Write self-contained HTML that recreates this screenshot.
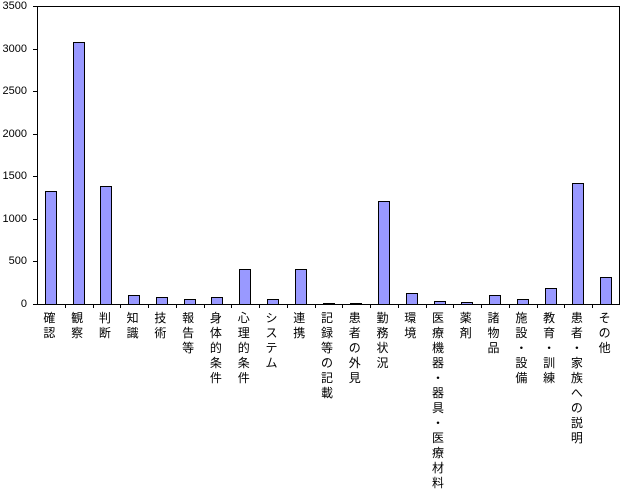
<!DOCTYPE html>
<html><head><meta charset="utf-8"><style>
body{margin:0;background:#fff;width:621px;height:493px;overflow:hidden;position:relative;font-family:"Liberation Sans","Noto Sans CJK JP",sans-serif}
.yl{position:absolute;right:594px;font-size:11px;line-height:12px;text-align:right}
.lab{position:absolute;top:310px;width:16px;font-size:12px;line-height:15px;text-align:center;font-family:"Noto Sans CJK JP","IPAGothic",sans-serif}
</style></head><body>
<svg width="621" height="493" style="position:absolute;left:0;top:0" id="s"></svg>
<div id="ys"></div><div id="ls"></div>
<script>
var vals=[1330,3080,1390,100,80,60,80,410,60,410,10,10,1210,130,40,20,110,60,190,1420,320];
var labs=["確認","観察","判断","知識","技術","報告等","身体的条件","心理的条件","システム","連携","記録等の記載","患者の外見","勤務状況","環境","医療機器・器具・医療材料","薬剤","諸物品","施設・設備","教育・訓練","患者・家族への説明","その他"];
var L=37,R=620,T=6,B=304,n=21,w=(R-L)/n,s="";
s+='<rect x="'+L+'.5" y="'+T+'.5" width="'+(R-L-1)+'" height="'+(B-T)+'" fill="none" stroke="#000"/>';
for(var i=0;i<=7;i++){var y=Math.round(B-i*500*(B-T)/3500)+0.5;s+='<line x1="'+(L-4)+'" x2="'+L+'" y1="'+y+'" y2="'+y+'" stroke="#000"/>';
document.getElementById('ys').innerHTML+='<div class="yl" style="top:'+(y-7)+'px">'+i*500+'</div>';}
for(var i=0;i<n;i++){var x=Math.round(L+i*w)+0.5;if(i>0)s+='<line x1="'+x+'" x2="'+x+'" y1="'+B+'" y2="'+(B+4)+'" stroke="#000"/>';
var c=L+(i+0.5)*w,h=vals[i]*(B-T)/3500;
s+='<rect x="'+(Math.round(c-6)+0.5)+'" y="'+(Math.round(B-h)+0.5)+'" width="11" height="'+Math.round(h)+'" fill="#9999ff" stroke="#000"/>';
var t=labs[i].split('').join('<br>');
document.getElementById('ls').innerHTML+='<div class="lab" style="left:'+(c-9.5)+'px">'+t+'</div>';}
s+='<line x1="'+L+'" x2="'+R+'" y1="'+(B+0.5)+'" y2="'+(B+0.5)+'" stroke="#000"/>';
document.getElementById('s').innerHTML=s;
</script>
</body></html>
